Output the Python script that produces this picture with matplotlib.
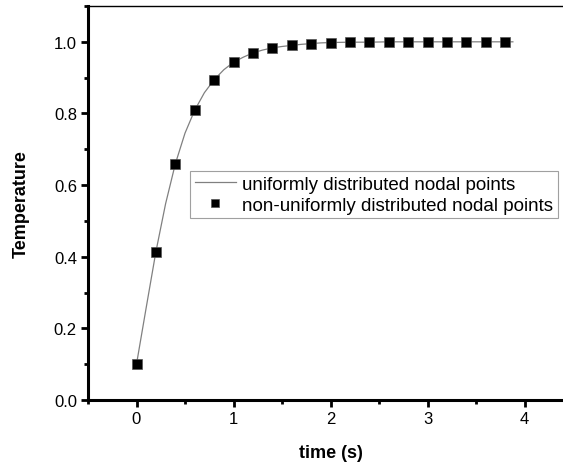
import matplotlib
matplotlib.use("Agg")
import matplotlib.pyplot as plt
from matplotlib.ticker import MultipleLocator

# fine-grid solution (uniform nodes)
t_uniform = [0.0, 0.1, 0.2, 0.3, 0.4, 0.5, 0.6, 0.7, 0.8, 0.9, 1.0, 1.1, 1.2, 1.3,
             1.4, 1.5, 1.6, 1.7, 1.8, 1.9, 2.0, 2.2, 2.4, 2.6, 2.8, 3.0, 3.2, 3.4,
             3.6, 3.8, 3.88]
T_uniform = [0.100, 0.258, 0.414, 0.548, 0.659, 0.745, 0.809, 0.858, 0.894, 0.922,
             0.943, 0.957, 0.969, 0.977, 0.983, 0.987, 0.990, 0.993, 0.995, 0.997,
             0.998, 0.999, 0.999, 1.000, 1.000, 1.000, 1.000, 1.000, 1.000, 1.000,
             1.000]

# non-uniform nodes
t_nonuniform = [0.0, 0.2, 0.4, 0.6, 0.8, 1.0, 1.2, 1.4, 1.6, 1.8, 2.0, 2.2, 2.4,
                2.6, 2.8, 3.0, 3.2, 3.4, 3.6, 3.8]
T_nonuniform = [0.100, 0.414, 0.659, 0.809, 0.894, 0.943, 0.969, 0.983, 0.990, 0.995,
                0.998, 0.999, 0.999, 1.000, 1.000, 1.000, 1.000, 1.000, 1.000, 1.000]

plt.rcParams['font.family'] = ['Liberation Sans', 'DejaVu Sans']

fig = plt.figure(figsize=(5.63, 4.64), dpi=100)
ax = fig.add_axes([88 / 563, 63 / 464, 485 / 563, 394 / 464])

ax.plot(t_uniform, T_uniform, color='#808080', lw=0.9,
        label='uniformly distributed nodal points')
ax.plot(t_nonuniform, T_nonuniform, ls='none', marker='s', ms=6.6, color='black',
        mec='#555555', mew=0.5, label='non-uniformly distributed nodal points')

ax.set_xlim(-0.5, 4.5)
ax.set_ylim(0, 1.1)
ax.xaxis.set_major_locator(MultipleLocator(1))
ax.xaxis.set_minor_locator(MultipleLocator(0.5))
ax.yaxis.set_major_locator(MultipleLocator(0.2))
ax.yaxis.set_minor_locator(MultipleLocator(0.1))
ax.yaxis.set_major_formatter(plt.FuncFormatter(lambda v, p: f'{v:.1f}'))

for side in ('left', 'bottom'):
    ax.spines[side].set_linewidth(2.2)
ax.spines['top'].set_linewidth(1.0)
ax.spines['right'].set_visible(False)
ax.tick_params(which='major', direction='out', length=5, width=2, labelsize=12,
               pad=3)
ax.tick_params(which='minor', direction='out', length=3, width=2)
ax.tick_params(top=False, right=False, which='both')

ax.set_xlabel('time (s)', fontsize=13, fontweight='bold', labelpad=13)
ax.set_ylabel('Temperature', fontsize=13, fontweight='bold', labelpad=17)

leg = ax.legend(loc='upper left', bbox_to_anchor=(0.210, 0.581), fontsize=13.5,
                frameon=True, fancybox=False, edgecolor='#888888', borderpad=0.25,
                handlelength=2.2, handletextpad=0.35, labelspacing=0.2,
                borderaxespad=0, markerscale=0.85)
leg.get_frame().set_linewidth(0.8)

fig.savefig('out.png', dpi=100)
